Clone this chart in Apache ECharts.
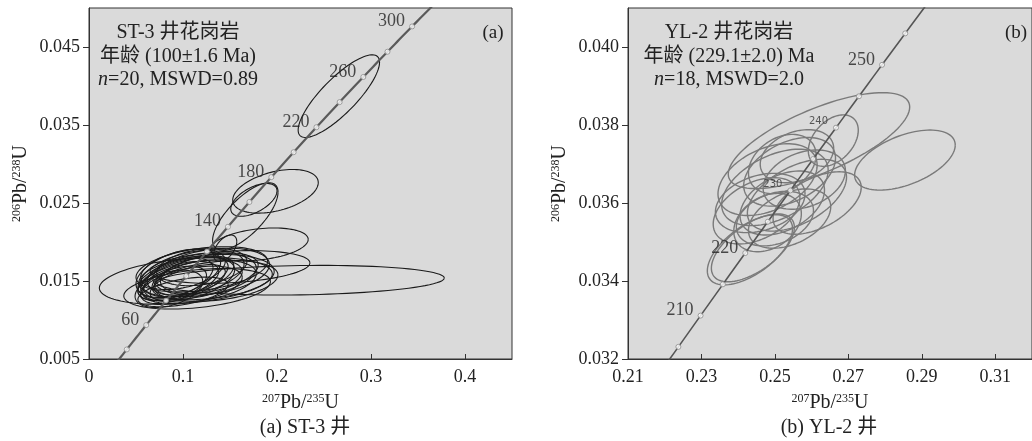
<!DOCTYPE html>
<html><head><meta charset="utf-8">
<script src="https://cdn.jsdelivr.net/npm/echarts@6/dist/echarts.min.js"></script>
<style>html,body{margin:0;padding:0;background:#fff}#c{width:1032px;height:441px}</style>
</head><body><div id="c"></div>
<script>
// ---- data ----
// decay constants (per Ma) used for the concordia curve
const LAMBDA238 = 1.55125e-4;
const LAMBDA235 = 9.8485e-4;
// concordia age ranges (Ma) and tick ages
const leftCurveAges = [20, 340];
const rightCurveAges = [195, 265];
const leftTickAges = [40,60,80,100,120,140,160,180,200,220,240,260,280,300,320];
const leftLabelAges = [60,140,180,220,260,300];
const rightTickAges = [205,210,215,220,225,230,235,240,245,250,255,260];
const rightBigLabelAges = [210,220,250];
const rightSmallLabelAges = [230,240];
// error ellipses: [207Pb/235U, 206Pb/238U, sigmaX, sigmaY, rho]
const leftEllipses = [
 [0.2658,0.0387,0.0433,0.0053,0.82],
 [0.1663,0.0233,0.0348,0.0043,0.72],
 [0.1984,0.0265,0.0455,0.0028,0.40],
 [0.1754,0.0254,0.0246,0.0021,0.55],
 [0.1813,0.0197,0.0519,0.0021,0.30],
 [0.1449,0.0192,0.0123,0.0017,0.50],
 [0.2250,0.0151,0.1530,0.0019,0.15],
 [0.1030,0.0150,0.0920,0.0030,0.30],
 [0.1150,0.0140,0.0780,0.0026,0.35],
 [0.1500,0.0168,0.0850,0.0021,0.25],
 [0.1200,0.0165,0.0700,0.0029,0.35],
 [0.100,0.0155,0.048,0.0027,0.5],
 [0.110,0.0160,0.055,0.0030,0.4],
 [0.095,0.0150,0.043,0.0025,0.5],
 [0.120,0.0158,0.058,0.0028,0.3],
 [0.105,0.0148,0.040,0.0023,0.6],
 [0.130,0.0162,0.062,0.0030,0.3],
 [0.090,0.0145,0.035,0.0024,0.5],
 [0.115,0.0152,0.048,0.0025,0.4],
 [0.125,0.0155,0.072,0.0029,0.25],
 [0.135,0.0150,0.066,0.0026,0.3],
 [0.100,0.0165,0.045,0.0026,0.4],
 [0.085,0.0140,0.036,0.0024,0.4],
 [0.110,0.0145,0.053,0.0024,0.4],
 [0.120,0.0168,0.048,0.0024,0.3],
 [0.100,0.0136,0.048,0.0019,0.5],
 [0.095,0.0160,0.045,0.0031,0.45],
 [0.112,0.0157,0.042,0.0025,0.5],
 [0.105,0.0152,0.050,0.0028,0.45],
 [0.118,0.0150,0.060,0.0027,0.35],
 [0.092,0.0152,0.040,0.0027,0.55],
 [0.128,0.0160,0.052,0.0026,0.4]
];
const rightEllipses = [
 [0.2854,0.0371,0.0137,0.00077,0.5],
 [0.2620,0.0376,0.0247,0.00123,0.7],
 [0.2659,0.0376,0.0068,0.00066,0.4],
 [0.2432,0.0348,0.0116,0.00090,0.6],
 [0.2440,0.03485,0.0113,0.00087,0.6],
 [0.2480,0.03660,0.0135,0.00092,0.4],
 [0.2500,0.03640,0.0145,0.00098,0.45],
 [0.2540,0.03680,0.0125,0.00088,0.4],
 [0.2560,0.03620,0.0135,0.00092,0.5],
 [0.2520,0.03600,0.0115,0.00082,0.4],
 [0.2580,0.03660,0.0112,0.00076,0.3],
 [0.2460,0.03600,0.0122,0.00076,0.3],
 [0.2500,0.03560,0.0105,0.00070,0.3],
 [0.2615,0.03600,0.0120,0.00080,0.5],
 [0.2540,0.03560,0.0112,0.00076,0.4],
 [0.2480,0.03550,0.0092,0.00075,0.3],
 [0.2560,0.03720,0.0100,0.00068,0.3],
 [0.2450,0.03580,0.0118,0.00085,0.4],
 [0.2520,0.03700,0.0092,0.00076,0.3]
];
// axis ticks
const leftXTicks = [0,0.1,0.2,0.3,0.4];
const leftYTicks = [0.005,0.015,0.025,0.035,0.045];
const rightXTicks = [0.21,0.23,0.25,0.27,0.29,0.31];
const rightYTicks = [0.032,0.034,0.036,0.038,0.040];
// texts
const leftInfo = ['ST-3 井花岗岩','年龄 (100±1.6 Ma)','{i|n}=20, MSWD=0.89'];
const rightInfo = ['YL-2 井花岗岩','年龄 (229.1±2.0) Ma','{i|n}=18, MSWD=2.0'];
const captions = ['(a) ST-3 井','(b) YL-2 井'];
const panelTags = ['(a)','(b)'];

// ---- helpers ----
const SERIF = '"Liberation Serif","Times New Roman","Noto Sans CJK SC",serif';
function conc(t){ return [Math.exp(LAMBDA235*t)-1, Math.exp(LAMBDA238*t)-1]; }
function curve(r){ const pts=[]; for(let t=r[0]; t<=r[1]; t+=1) pts.push(conc(t)); return pts; }
function ellipseRender(color, width){
  return function(params, api){
    const cx=api.value(0), cy=api.value(1), sx=api.value(2), sy=api.value(3), r=api.value(4);
    const k=Math.sqrt(1-r*r); const pts=[];
    for(let i=0;i<=96;i++){
      const a=i/96*2*Math.PI;
      pts.push(api.coord([cx+sx*Math.cos(a), cy+sy*(r*Math.cos(a)+k*Math.sin(a))]));
    }
    return {type:'polyline', shape:{points:pts}, style:{fill:null, stroke:color, lineWidth:width}};
  };
}
const axisNameRich = {
  m:{fontFamily:SERIF,fontSize:20,color:'#222',verticalAlign:'bottom'},
  s:{fontFamily:SERIF,fontSize:12,color:'#222',verticalAlign:'bottom',padding:[0,0,8,0]}
};
function xAxis(idx,min,max,ticks,fmt){
  return {type:'value',gridIndex:idx,min:min,max:max,
    name:'{s|207}{m|Pb/}{s|235}{m|U}',nameLocation:'middle',nameGap:34,
    nameTextStyle:{rich:axisNameRich},
    splitLine:{show:false},
    axisLine:{show:true,lineStyle:{color:'#333',width:1}},
    axisTick:{show:true,inside:true,length:5,customValues:ticks,lineStyle:{color:'#333'}},
    axisLabel:{customValues:ticks,formatter:fmt,fontFamily:SERIF,fontSize:18,color:'#222',margin:9}};
}
function yAxis(idx,min,max,ticks){
  return {type:'value',gridIndex:idx,min:min,max:max,
    name:'{s|206}{m|Pb/}{s|238}{m|U}',nameLocation:'middle',nameGap:58,nameRotate:90,
    nameTextStyle:{rich:axisNameRich},
    splitLine:{show:false},
    axisLine:{show:true,lineStyle:{color:'#333',width:1}},
    axisTick:{show:true,inside:false,length:6,customValues:ticks,lineStyle:{color:'#333'}},
    axisLabel:{customValues:ticks,formatter:v=>v.toFixed(3),fontFamily:SERIF,fontSize:18,color:'#222',margin:9}};
}
function tickSeries(idx, ages, big, small){
  const d = ages.map(a=>{ const p=conc(a); const b=big.indexOf(a)>=0, s=small.indexOf(a)>=0;
    return {value:[p[0],p[1],a],
      label:{show:b||s, formatter:String(a), position:'left', distance:s?5:4, offset:[0,s?-6:-5],
        fontFamily:s?'"DejaVu Sans",sans-serif':SERIF, fontSize:s?10:18, color:s?'#333':'#222'}}; });
  return {type:'scatter',xAxisIndex:idx,yAxisIndex:idx,data:d,symbol:'circle',symbolSize:5,
    itemStyle:{color:'#fff',borderColor:'#888',borderWidth:1},z:5,silent:true};
}

const chart = echarts.init(document.getElementById('c'),null,{renderer:'canvas'});
const graphic = [];
function info(lines, cx){
  lines.forEach((t,i)=>graphic.push({type:'text',x:cx,y:33+i*23.5,z:10,style:{text:t,align:'center',verticalAlign:'middle',
    fontFamily:SERIF,fontSize:20,fill:'#222',
    rich:{i:{fontFamily:SERIF,fontSize:20,fontStyle:'italic',fill:'#222'}}}}));
}
info(leftInfo,178); info(rightInfo,729);
graphic.push({type:'text',x:493,y:33,z:10,style:{text:panelTags[0],align:'center',verticalAlign:'middle',fontFamily:SERIF,fontSize:19,fill:'#222'}});
graphic.push({type:'text',x:1016,y:33,z:10,style:{text:panelTags[1],align:'center',verticalAlign:'middle',fontFamily:SERIF,fontSize:19,fill:'#222'}});
graphic.push({type:'text',x:305,y:428,style:{text:captions[0],align:'center',verticalAlign:'middle',fontFamily:SERIF,fontSize:20,fill:'#222'}});
graphic.push({type:'text',x:829,y:428,style:{text:captions[1],align:'center',verticalAlign:'middle',fontFamily:SERIF,fontSize:20,fill:'#222'}});

chart.setOption({
  animation:false,
  backgroundColor:'#fff',
  grid:[
    {left:89,top:8,width:423,height:351,show:true,backgroundColor:'#dadada',borderColor:'#333',borderWidth:1},
    {left:628,top:8,width:407,height:351,show:true,backgroundColor:'#dadada',borderColor:'#333',borderWidth:1}
  ],
  xAxis:[xAxis(0,0,0.45,leftXTicks,v=>v===0?'0':String(v)), xAxis(1,0.21,0.32,rightXTicks,v=>v.toFixed(2))],
  yAxis:[yAxis(0,0.005,0.050,leftYTicks), yAxis(1,0.032,0.041,rightYTicks)],
  graphic:graphic,
  series:[
    {type:'custom',xAxisIndex:0,yAxisIndex:0,data:leftEllipses,renderItem:ellipseRender('#1a1a1a',1.1),clip:true,encode:{x:0,y:1},silent:true,z:2},
    {type:'line',xAxisIndex:0,yAxisIndex:0,data:curve(leftCurveAges),showSymbol:false,lineStyle:{color:'#5a5a5a',width:2.2},clip:true,z:3,silent:true},
    tickSeries(0,leftTickAges,leftLabelAges,[]),
    {type:'custom',xAxisIndex:1,yAxisIndex:1,data:rightEllipses,renderItem:ellipseRender('#7a7a7a',1.4),clip:true,encode:{x:0,y:1},silent:true,z:2},
    {type:'line',xAxisIndex:1,yAxisIndex:1,data:curve(rightCurveAges),showSymbol:false,lineStyle:{color:'#555',width:1.6},clip:true,z:3,silent:true},
    tickSeries(1,rightTickAges,rightBigLabelAges,rightSmallLabelAges)
  ]
});
</script></body></html>
